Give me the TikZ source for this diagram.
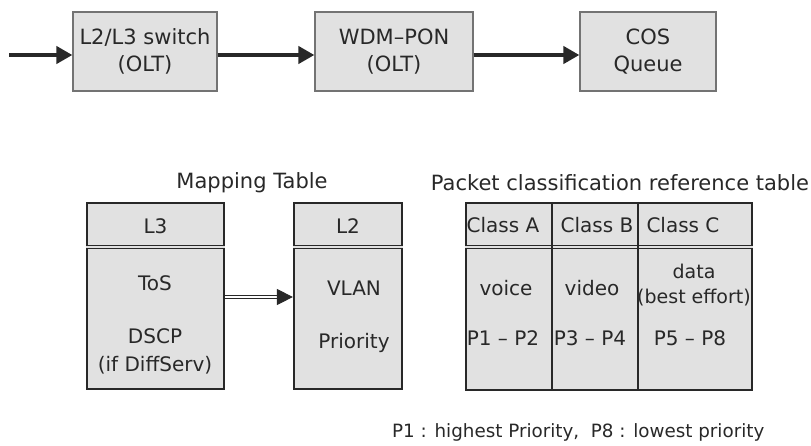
\documentclass[tikz,border=0pt]{standalone}
\usepackage{fontspec}
\setmainfont{DejaVu Sans}
\usetikzlibrary{arrows.meta}
\definecolor{boxgray}{RGB}{225,225,225}
\definecolor{ink}{RGB}{40,40,40}
\tikzset{
    unitbox/.style = {draw = ink!65, line width = 1.2pt, fill = boxgray, inner sep = 0pt, align = center,
        font = \fontsize{21}{27}\selectfont},
    tabbox/.style = {draw = ink, line width = 2.2pt, fill = boxgray, inner sep = 0pt},
    flow/.style = {draw = ink, line width = 4.5pt, -{Triangle[length = 16pt, width = 17pt]}},
    headrule/.style = {draw = ink, line width = 0.9pt, double = boxgray, double distance = 1.6pt}
}
\begin{document}
\begin{tikzpicture}[x = 1pt, y = -1pt, every node/.append style = {text = ink}]
            \useasboundingbox (0,0) rectangle (811,445);
            \node[unitbox, minimum width = 144pt, minimum height = 79pt] (switch) at (145,51.5) {L2/L3 switch\\(OLT)};
            \node[unitbox, minimum width = 158pt, minimum height = 79pt] (pon) at (394,51.5) {WDM--PON\\(OLT)};
            \node[unitbox, minimum width = 136pt, minimum height = 79pt] (queue) at (648,51.5) {COS\\Queue};
            \coordinate (input) at (9,55);
            \draw[flow] (input) -- (switch.west |- input);
            \draw[flow] (switch.east |- input) -- (pon.west |- input);
            \draw[flow] (pon.east |- input) -- (queue.west |- input);
            \begin{scope}[every node/.append style = {font = \fontsize{21}{25}\selectfont}]
                \node (maptitle) at (252,183) {Mapping Table};
                \node (reftitle) at (620,183) {Packet classification reference table};
                \node[anchor = base west, inner sep = 0pt, font = \fontsize{18.3}{22}\selectfont] (legend) at (392,437)
                    {P1 : highest Priority,\ \ P8 : lowest priority};
            \end{scope}
            \node[tabbox, minimum width = 137pt, minimum height = 186pt] (l3box) at (155.5,296) {};
            \node[tabbox, minimum width = 108pt, minimum height = 186pt] (l2box) at (348,296) {};
            \node[tabbox, minimum width = 286pt, minimum height = 187pt] (reftab) at (609,296.5) {};
            \draw[headrule] (l3box.west |- 0,247) -- (l3box.east |- 0,247);
            \draw[headrule] (l2box.west |- 0,247) -- (l2box.east |- 0,247);
            \draw[headrule] (reftab.west |- 0,247) -- (reftab.east |- 0,247);
            \draw[ink, line width = 1.3pt] (552,0 |- reftab.north) -- (552,0 |- reftab.south);
            \draw[ink, line width = 1.3pt] (638,0 |- reftab.north) -- (638,0 |- reftab.south);
            \draw[ink, line width = 0.9pt, double = white, double distance = 2.4pt,
                -{Triangle[length = 16pt, width = 16pt]}] (l3box.east |- 0,297) -- (l2box.west |- 0,297);
            \begin{scope}[every node/.append style = {font = \fontsize{20}{28}\selectfont, align = center}]
                \node (l3) at (155.5,226) {L3};
                \node (tos) at (155,283) {ToS};
                \node (dscp) at (155,351) {DSCP\\(if DiffServ)};
                \node (l2) at (348,226) {L2};
                \node (vlan) at (354,288) {VLAN};
                \node (prio) at (354,343) {Priority};
                \node (classa) at (503,225) {Class A};
                \node (classb) at (597,225) {Class B};
                \node (classc) at (683,225) {Class C};
                \node (voice) at (506,288) {voice};
                \node (video) at (592,288) {video};
                \node[font = \fontsize{19}{25}\selectfont] (data) at (694,285.5) {data\\(best effort)};
                \node (pa) at (503,338) {P1 -- P2};
                \node (pb) at (590,338) {P3 -- P4};
                \node (pc) at (690,338) {P5 -- P8};
            \end{scope}
        \end{tikzpicture}
\end{document}
